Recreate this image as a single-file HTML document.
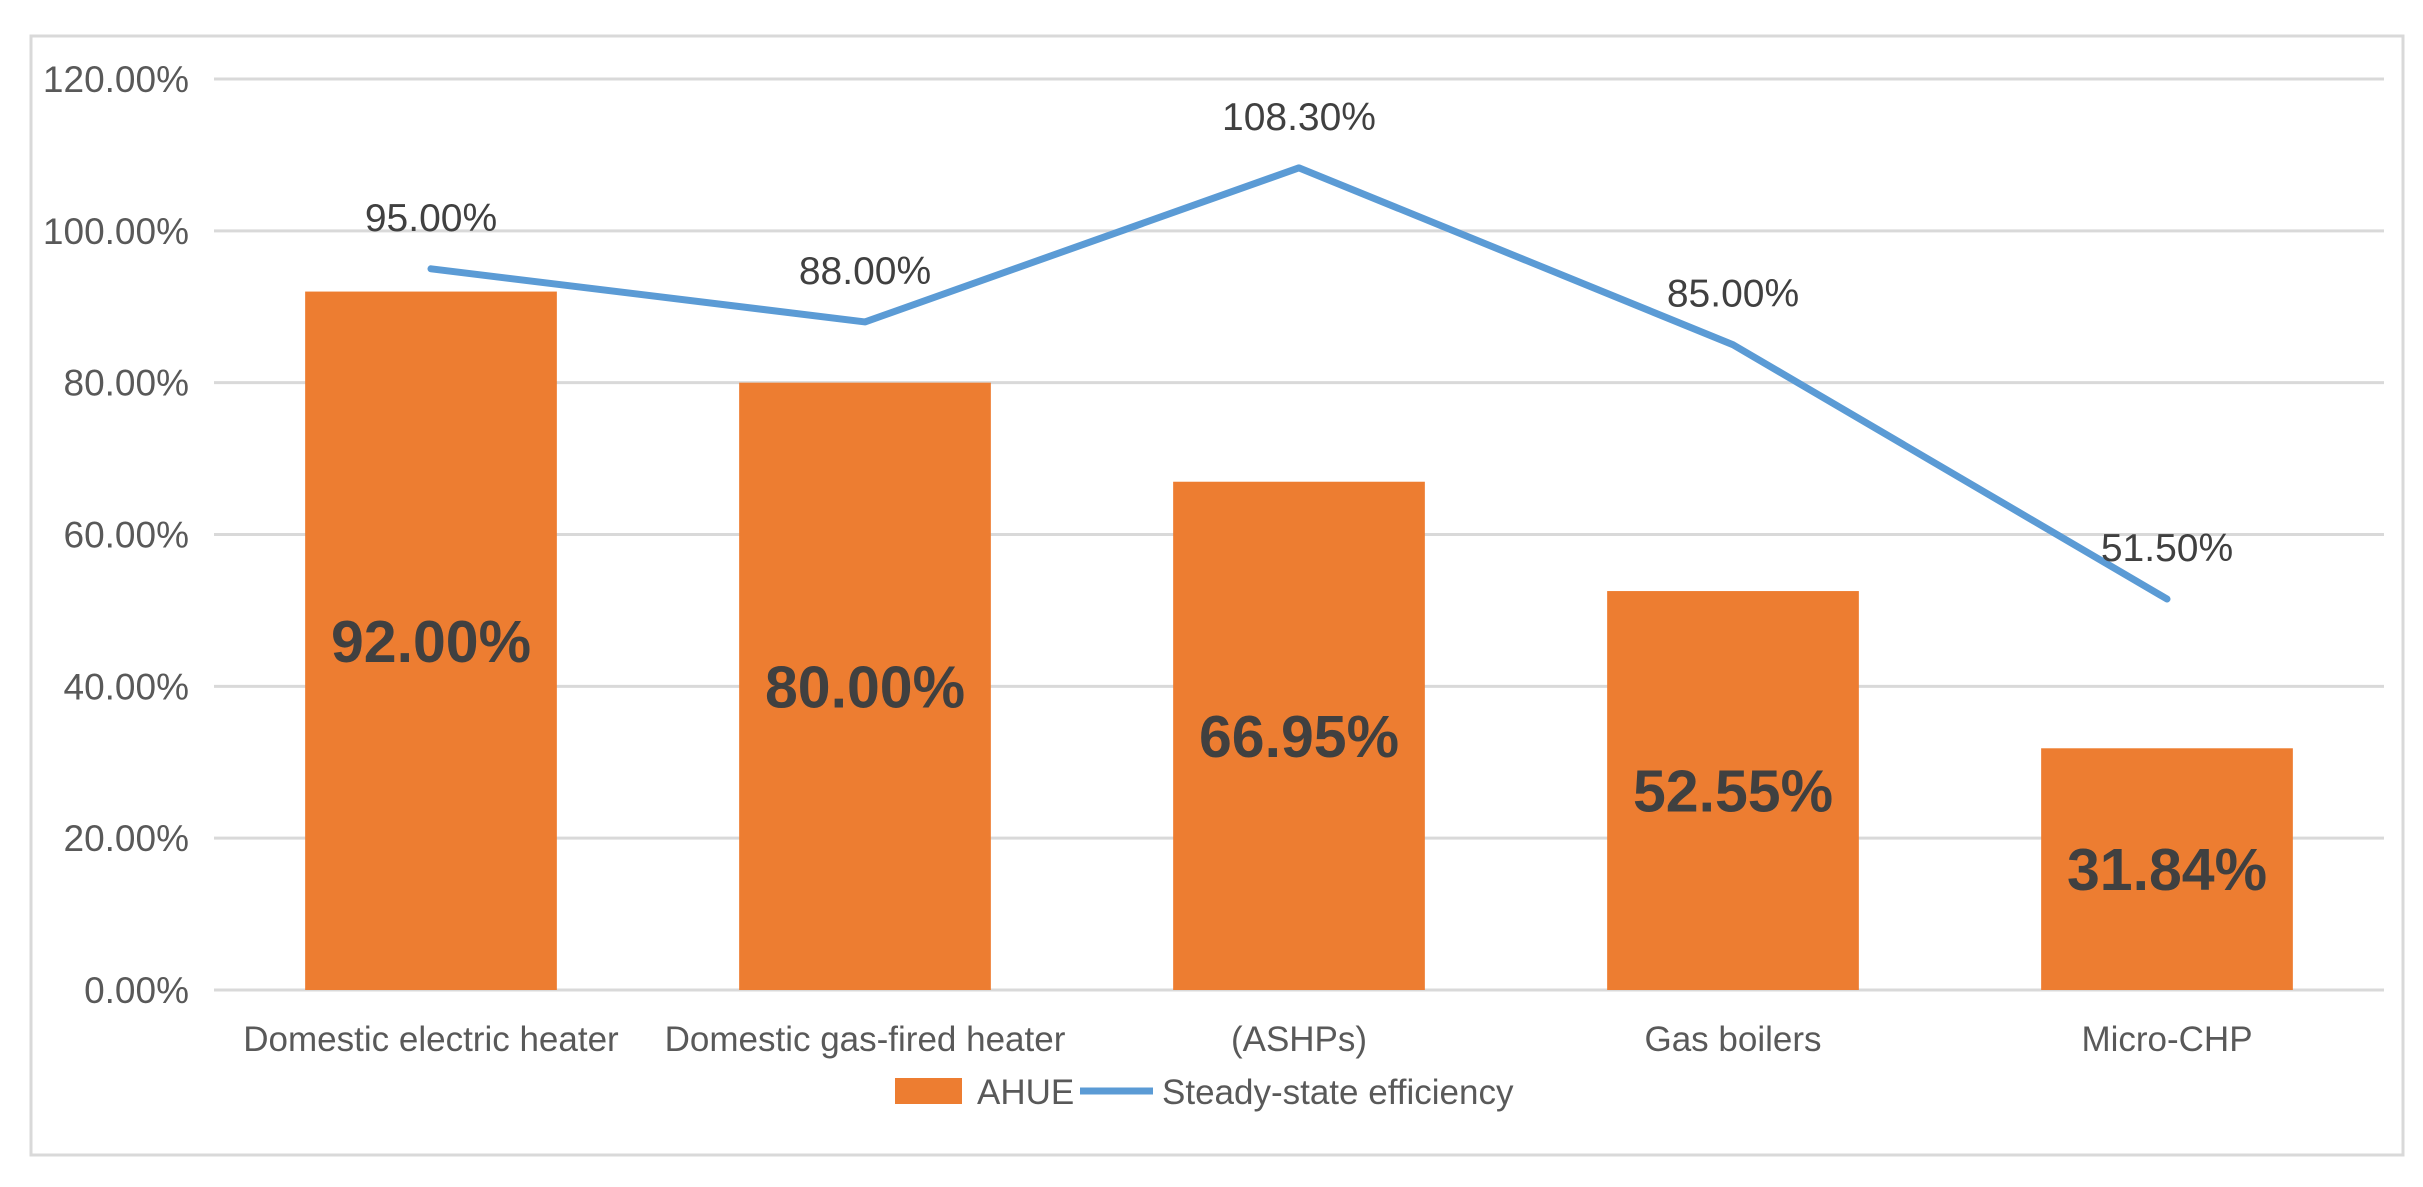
<!DOCTYPE html>
<html><head><meta charset="utf-8"><style>
html,body{margin:0;padding:0;background:#fff;}
svg{display:block;font-family:"Liberation Sans",Arial,sans-serif;}
</style></head><body>
<svg id="chart" width="2423" height="1187" viewBox="0 0 2423 1187">
<rect x="31" y="36" width="2372" height="1119" fill="#fff" stroke="#d9d9d9" stroke-width="3"/>
<g id="grid"></g><g id="bars"></g><g id="line"></g><g id="labels"></g>
<g>
<rect x="895" y="1078" width="67" height="26" fill="#ED7D31"/>
<text x="977" y="1104" font-size="35" fill="#595959">AHUE</text>
<line x1="1080" y1="1091" x2="1153" y2="1091" stroke="#5B9BD5" stroke-width="7"/>
<text x="1162" y="1104" font-size="35" fill="#595959">Steady-state efficiency</text>
</g>
</svg>
<script>
const categories = ["Domestic electric heater","Domestic gas-fired heater","(ASHPs)","Gas boilers","Micro-CHP"];
const ahueValues = [92.00, 80.00, 66.95, 52.55, 31.84];
const efficiencyValues = [95.00, 88.00, 108.30, 85.00, 51.50];
const yTicks = [0,20,40,60,80,100,120];

const NS="http://www.w3.org/2000/svg";
const X0=214, X1=2384, Y0=990, Y120=79;
const yScale=v=>Y0-(v/120)*(Y0-Y120);
const band=(X1-X0)/categories.length;
const xCenter=i=>X0+band*(i+0.5);
const barW=band*0.58;
function mk(tag,attrs,parent,txt){const e=document.createElementNS(NS,tag);for(const k in attrs)e.setAttribute(k,attrs[k]);if(txt!==undefined)e.textContent=txt;parent.appendChild(e);return e;}
const grid=document.getElementById('grid'),bars=document.getElementById('bars'),lineG=document.getElementById('line'),labels=document.getElementById('labels');
yTicks.forEach(t=>{
  const l=mk('line',{x1:X0,x2:X1,y1:yScale(t),y2:yScale(t),stroke:'#d9d9d9','stroke-width':3},grid);
  
  
  const tx=mk('text',{x:189,y:yScale(t)+13,'font-size':37,fill:'#595959','text-anchor':'end'},grid,t.toFixed(2)+'%');
  
  
});
categories.forEach((c,i)=>{
  const v=ahueValues[i];
  const r=mk('rect',{x:xCenter(i)-barW/2,y:yScale(v),width:barW,height:Y0-yScale(v),fill:'#ED7D31'},bars);
  
  
  const bl=mk('text',{x:xCenter(i),y:(yScale(v)+Y0)/2+21,'font-size':59,'font-weight':'bold',fill:'#404040','text-anchor':'middle'},labels,v.toFixed(2)+'%');
  
  
  const xl=mk('text',{x:xCenter(i),y:1051,'font-size':35,fill:'#595959','text-anchor':'middle'},labels,c);
  
  
});
const pts=efficiencyValues.map((v,i)=>xCenter(i)+','+yScale(v)).join(' ');
const pl=mk('polyline',{points:pts,fill:'none',stroke:'#5B9BD5','stroke-width':7,'stroke-linejoin':'round','stroke-linecap':'round'},lineG);


efficiencyValues.forEach((v,i)=>{
  const t=mk('text',{x:xCenter(i),y:yScale(v)-38,'font-size':39,fill:'#404040','text-anchor':'middle'},labels,v.toFixed(2)+'%');
  
  
});
</script>
</body></html>
